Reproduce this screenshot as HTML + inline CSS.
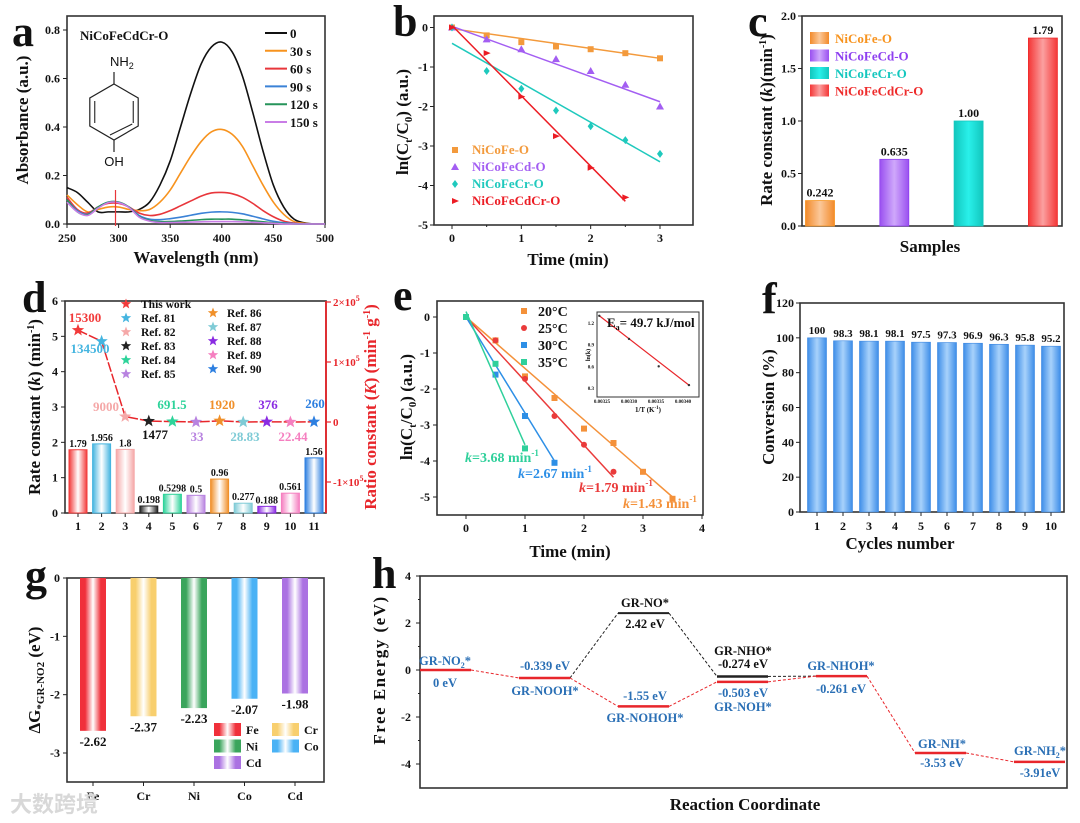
<!DOCTYPE html>
<html><head><meta charset="utf-8"><style>
html,body{margin:0;padding:0;background:#fff;}
svg{display:block;font-family:"Liberation Serif","Noto Serif CJK SC",serif;font-weight:bold;}
</style></head><body>
<svg id="fig" width="1080" height="823" viewBox="0 0 1080 823" xmlns="http://www.w3.org/2000/svg">
<defs>
<linearGradient id="gOr" x1="0" x2="1"><stop offset="0" stop-color="#f28a2a"/><stop offset="0.5" stop-color="#fbc89a"/><stop offset="1" stop-color="#f28a2a"/></linearGradient>
<linearGradient id="gPu" x1="0" x2="1"><stop offset="0" stop-color="#9a50f0"/><stop offset="0.5" stop-color="#cfa8fb"/><stop offset="1" stop-color="#9a50f0"/></linearGradient>
<linearGradient id="gCy" x1="0" x2="1"><stop offset="0" stop-color="#12c6bd"/><stop offset="0.5" stop-color="#29f0ea"/><stop offset="1" stop-color="#12c6bd"/></linearGradient>
<linearGradient id="gRe" x1="0" x2="1"><stop offset="0" stop-color="#f43636"/><stop offset="0.5" stop-color="#fba0a0"/><stop offset="1" stop-color="#f43636"/></linearGradient>
<linearGradient id="gBl" x1="0" x2="1"><stop offset="0" stop-color="#3d8de8"/><stop offset="0.5" stop-color="#a8d2fb"/><stop offset="1" stop-color="#3d8de8"/></linearGradient>
</defs>
</svg>
<script>
// ---------- data: panel a ----------
const aWave=[250,260,270,280,290,300,310,320,330,340,350,360,370,380,390,400,410,420,430,440,450,460,470,480,490,500];
const aS0=[0.15,0.13,0.09,0.05,0.05,0.05,0.05,0.06,0.09,0.16,0.26,0.40,0.54,0.66,0.73,0.75,0.71,0.61,0.46,0.30,0.16,0.07,0.02,0.005,0,0];
const aS30=[0.12,0.08,0.05,0.06,0.07,0.07,0.06,0.055,0.06,0.09,0.14,0.21,0.28,0.34,0.38,0.39,0.37,0.32,0.24,0.16,0.09,0.04,0.01,0.003,0,0];
const aS60=[0.11,0.06,0.045,0.07,0.085,0.085,0.07,0.045,0.035,0.04,0.055,0.075,0.095,0.115,0.128,0.13,0.125,0.11,0.085,0.055,0.03,0.012,0.004,0,0,0];
const aS90=[0.1,0.055,0.04,0.07,0.09,0.09,0.07,0.035,0.02,0.018,0.022,0.028,0.036,0.044,0.049,0.05,0.048,0.042,0.032,0.021,0.011,0.005,0.002,0,0,0];
const aS120=[0.1,0.05,0.038,0.07,0.09,0.09,0.07,0.03,0.015,0.01,0.01,0.012,0.015,0.018,0.02,0.02,0.02,0.017,0.013,0.009,0.005,0.002,0,0,0,0];
const aS150=[0.09,0.05,0.035,0.065,0.088,0.088,0.068,0.028,0.012,0.006,0.006,0.007,0.008,0.009,0.01,0.01,0.01,0.009,0.007,0.005,0.003,0,0,0,0,0];
const aLabels=["0","30 s","60 s","90 s","120 s","150 s"];
const aYTicks=[0,0.2,0.4,0.6,0.8];
const aXTicks=[250,300,350,400,450,500];
// ---------- panel b ----------
const bT=[0,0.5,1,1.5,2,2.5,3];
const bFe=[0,-0.2,-0.37,-0.48,-0.55,-0.65,-0.78];
const bCd=[0,-0.3,-0.55,-0.8,-1.1,-1.45,-2.0];
const bCr=[0,-1.1,-1.55,-2.1,-2.5,-2.85,-3.2];
const bCdCr=[0,-0.65,-1.75,-2.75,-3.55,-4.3];
const bFitStart=[-0.03,0.03,-0.4,0.05];
const bFitEnd=[-0.78,-1.88,-3.4,-4.4];
const bFitTEnd=[3,3,3,2.5];
const bNames=["NiCoFe-O","NiCoFeCd-O","NiCoFeCr-O","NiCoFeCdCr-O"];
// ---------- panel c ----------
const cNames=["NiCoFe-O","NiCoFeCd-O","NiCoFeCr-O","NiCoFeCdCr-O"];
const cVals=[0.242,0.635,1.00,1.79];
const cLabels=["0.242","0.635","1.00","1.79"];
const cYTicks=[0,0.5,1.0,1.5,2.0];
// ---------- panel d ----------
const dCats=[1,2,3,4,5,6,7,8,9,10,11];
const dK=[1.79,1.956,1.8,0.198,0.5298,0.5,0.96,0.277,0.188,0.561,1.56];
const dKLabels=["1.79","1.956","1.8","0.198","0.5298","0.5","0.96","0.277","0.188","0.561","1.56"];
const dRatio=[153000,134500,9000,1477,691.5,33,1920,28.83,376,22.44,260];
const dRatioLabels=["15300","134500","9000","1477","691.5","33","1920","28.83","376","22.44","260"];
const dLegend=["This work","Ref. 81","Ref. 82","Ref. 83","Ref. 84","Ref. 85","Ref. 86","Ref. 87","Ref. 88","Ref. 89","Ref. 90"];
// ---------- panel e ----------
const eT=[0,0.5,1,1.5,2,2.5,3,3.5];
const e20=[0,-0.65,-1.65,-2.25,-3.1,-3.5,-4.3,-5.05];
const e25=[0,-0.65,-1.72,-2.75,-3.55,-4.3];
const e30=[0,-1.6,-2.75,-4.05];
const e35=[0,-1.3,-3.65];
const eFitStart=[0,0,0,0.15];
const eFitEnd=[-5.0,-4.45,-4.0,-3.55];
const eFitTEnd=[3.5,2.5,1.5,1.0];
const eNames=["20°C","25°C","30°C","35°C"];
const eK=["1.43","1.79","2.67","3.68"];
const eInvT=[0.003245,0.003300,0.003355,0.003411];
const eLnK=[1.3,0.98,0.6,0.34];
// ---------- panel f ----------
const fCycles=[1,2,3,4,5,6,7,8,9,10];
const fConv=[100,98.3,98.1,98.1,97.5,97.3,96.9,96.3,95.8,95.2];
const fLabels=["100","98.3","98.1","98.1","97.5","97.3","96.9","96.3","95.8","95.2"];
// ---------- panel g ----------
const gEls=["Fe","Cr","Ni","Co","Cd"];
const gVals=[-2.62,-2.37,-2.23,-2.07,-1.98];
const gLabels=["-2.62","-2.37","-2.23","-2.07","-1.98"];
// ---------- panel h ----------
const hRedSlots=[0,1,2,3,4,5,6];
const hRedE=[0,-0.339,-1.55,-0.503,-0.261,-3.53,-3.91];
const hBlackSlots=[1,2,3,4];
const hBlackE=[-0.339,2.42,-0.274,-0.261];

const NS="http://www.w3.org/2000/svg";
const svg=document.getElementById('fig');
function mk(tag,attrs,name,parent){
  const e=document.createElementNS(NS,tag);
  for(const k in attrs) e.setAttribute(k,attrs[k]);
  
  
  (parent||svg).appendChild(e);return e;
}
function txt(x,y,s,name,o){
  o=o||{};
  const t=mk('text',{x:x,y:y,'font-size':o.size||12,fill:o.fill||'#111','text-anchor':o.anchor||'middle'},name);
  if(o.rot){t.setAttribute('transform','rotate('+o.rot+' '+x+' '+y+')');}
  if(o.italic) t.setAttribute('font-style','italic');
  if(o.ls) t.setAttribute('letter-spacing',o.ls);
  if(o.html) t.innerHTML=s; else t.textContent=s;
  return t;
}
function ln(x1,y1,x2,y2,name,stroke,w,dash){
  const l=mk('line',{x1:x1,y1:y1,x2:x2,y2:y2,stroke:stroke||'#222','stroke-width':w||1},name);
  if(dash) l.setAttribute('stroke-dasharray',dash);
  return l;
}
function frame(x0,y0,x1,y1,name){mk('rect',{x:x0,y:y0,width:x1-x0,height:y1-y0,fill:'none',stroke:'#333','stroke-width':1.6},name);}
function lin(d0,d1,p0,p1){return v=>p0+(v-d0)*(p1-p0)/(d1-d0);}
function smooth(pts){
  let d='M'+pts[0][0]+','+pts[0][1];
  for(let i=0;i<pts.length-1;i++){
    const p0=pts[Math.max(0,i-1)],p1=pts[i],p2=pts[i+1],p3=pts[Math.min(pts.length-1,i+2)];
    d+=' C'+(p1[0]+(p2[0]-p0[0])/6)+','+(p1[1]+(p2[1]-p0[1])/6)+' '+(p2[0]-(p3[0]-p1[0])/6)+','+(p2[1]-(p3[1]-p1[1])/6)+' '+p2[0]+','+p2[1];
  }
  return d;
}
function star(cx,cy,r,fill,name){
  let p=[];for(let i=0;i<10;i++){const a=-Math.PI/2+i*Math.PI/5;const rr=i%2?r*0.42:r;p.push((cx+rr*Math.cos(a)).toFixed(1)+','+(cy+rr*Math.sin(a)).toFixed(1));}
  mk('polygon',{points:p.join(' '),fill:fill},name);
}
function marker(type,cx,cy,s,fill,name){
  if(type==='sq') mk('rect',{x:cx-s,y:cy-s,width:2*s,height:2*s,fill:fill},name);
  else if(type==='tri') mk('polygon',{points:(cx)+','+(cy-s-1)+' '+(cx-s-1)+','+(cy+s)+' '+(cx+s+1)+','+(cy+s),fill:fill},name);
  else if(type==='dia') mk('polygon',{points:cx+','+(cy-s-1)+' '+(cx+s)+','+cy+' '+cx+','+(cy+s+1)+' '+(cx-s)+','+cy,fill:fill},name);
  else if(type==='rtri') mk('polygon',{points:(cx+s+1)+','+cy+' '+(cx-s)+','+(cy-s)+' '+(cx-s)+','+(cy+s),fill:fill},name);
  else mk('circle',{cx:cx,cy:cy,r:s,fill:fill},name);
}
function letter(x,y,s){txt(x,y,s,'panel-label-'+s,{size:44,anchor:'start'});}

// ================= PANEL A =================
(function(){
  const X=lin(250,500,67,325),Y=lin(0,0.8,224,30);
  frame(67,16,325,224,'panel-a-frame');
  aXTicks.forEach(v=>{ln(X(v),224,X(v),228,'a-x-tick');txt(X(v),242,String(v),'a-x-tick-label',{size:12});});
  aYTicks.forEach(v=>{ln(63,Y(v),67,Y(v),'a-y-tick');txt(60,Y(v)+4,v.toFixed(1),'a-y-tick-label',{size:12,anchor:'end'});});
  txt(196,263,'Wavelength (nm)','a-x-axis-title',{size:17});
  txt(28,120,'Absorbance (a.u.)','a-y-axis-title',{size:17,rot:-90});
  const series=[aS0,aS30,aS60,aS90,aS120,aS150];
  const cols=['#111','#f7931e','#e8363b','#3b82d6','#26945a','#c97de6'];
  series.forEach((s,i)=>{
    const pts=aWave.map((w,j)=>[X(w),Y(s[j])]);
    mk('path',{d:smooth(pts),fill:'none',stroke:cols[i],'stroke-width':1.6},'a-spectrum-'+aLabels[i].replace(' ',''));
    const ly=33+i*17.8;
    ln(265,ly,287,ly,'a-legend-line',cols[i],2);
    txt(290,ly+5,aLabels[i],'a-legend-label',{size:13,anchor:'start'});
  });
  ln(X(297),190,X(297),226,'a-arrow-marker','#e8363b',1.2);
  txt(80,40,'NiCoFeCdCr-O','a-sample-label',{size:13,anchor:'start'});
  // molecule
  const cx=114,cy=112,r=28;let p=[];
  for(let i=0;i<6;i++){const a=-Math.PI/2+i*Math.PI/3;p.push((cx+r*Math.cos(a)).toFixed(1)+','+(cy+r*Math.sin(a)).toFixed(1));}
  mk('polygon',{points:p.join(' '),fill:'none',stroke:'#222','stroke-width':1.2},'a-benzene-ring');
  ln(cx+r*0.866-5,cy-r*0.5+3,cx+r*0.866-5,cy+r*0.5-3,'a-ring-bond','#222',1.1);
  ln(cx-r*0.866+5,cy-r*0.5+3,cx-r*0.866+5,cy+r*0.5-3,'a-ring-bond','#222',1.1);
  ln(cx-4,cy+r-5,cx+r*0.866-6,cy+r*0.5-2,'a-ring-bond','#222',1.1);
  ln(cx,cy-r,cx,cy-r-12,'a-nh2-bond','#222',1.2);
  ln(cx,cy+r,cx,cy+r+12,'a-oh-bond','#222',1.2);
  const t1=txt(110,66,'NH<tspan font-size="9" dy="3">2</tspan>','a-nh2-label',{size:13,anchor:'start',html:true});t1.setAttribute('font-weight','normal');t1.setAttribute('font-family','Liberation Sans, sans-serif');
  const t2=txt(114,166,'OH','a-oh-label',{size:13,html:false});t2.setAttribute('font-weight','normal');t2.setAttribute('font-family','Liberation Sans, sans-serif');
  letter(12,46,'a');
})();

// ================= PANEL B =================
(function(){
  const X=lin(0,3,452,660),Y=lin(0,-5,27.5,225);
  frame(434,16,693,225,'panel-b-frame');
  [0,1,2,3].forEach(v=>{ln(X(v),225,X(v),229,'b-x-tick');txt(X(v),242,String(v),'b-x-tick-label',{size:12});});
  [0.5,1.5,2.5].forEach(v=>ln(X(v),225,X(v),227,'b-x-minor-tick'));
  [0,-1,-2,-3,-4,-5].forEach(v=>{ln(430,Y(v),434,Y(v),'b-y-tick');txt(428,Y(v)+4,String(v),'b-y-tick-label',{size:12,anchor:'end'});});
  txt(568,265,'Time (min)','b-x-axis-title',{size:17});
  txt(408,122,'ln(C<tspan font-size="11" dy="4">t</tspan><tspan dy="-4">/C</tspan><tspan font-size="11" dy="4">0</tspan><tspan dy="-4">) (a.u.)</tspan>','b-y-axis-title',{size:17,rot:-90,html:true});
  const data=[bFe,bCd,bCr,bCdCr];
  const cols=['#f39a3c','#a35ef2','#1fc9bd','#ec1c24'];
  const mt=['sq','tri','dia','rtri'];
  data.forEach((s,i)=>{
    ln(X(0),Y(bFitStart[i]),X(bFitTEnd[i]),Y(bFitEnd[i]),'b-fit-line-'+bNames[i],cols[i],1.5);
    s.forEach((v,j)=>marker(mt[i],X(bT[j]),Y(v),3,cols[i],'b-point-'+bNames[i]));
    const ly=154+i*17;
    marker(mt[i],455,ly-4,3,cols[i],'b-legend-marker');
    txt(472,ly,bNames[i],'b-legend-label',{size:13,anchor:'start',fill:cols[i]});
  });
  letter(393,36,'b');
})();

// ================= PANEL C =================
(function(){
  const Y=lin(0,2,226,16);const X=i=>820+i*74.3;
  frame(802,16,1062,226,'panel-c-frame');
  cYTicks.forEach(v=>{ln(798,Y(v),802,Y(v),'c-y-tick');txt(796,Y(v)+4,v.toFixed(1),'c-y-tick-label',{size:12,anchor:'end'});});
  txt(930,252,'Samples','c-x-axis-title',{size:17});
  txt(772,120,'Rate constant (<tspan font-style="italic">k</tspan>)(min<tspan font-size="10" dy="-6">-1</tspan><tspan dy="6">)</tspan>','c-y-axis-title',{size:17,rot:-90,html:true});
  const g=['url(#gOr)','url(#gPu)','url(#gCy)','url(#gRe)'];
  const cols=['#f7931e','#8e3ff0','#14c7be','#ee2b2b'];
  cVals.forEach((v,i)=>{
    mk('rect',{x:X(i)-14.5,y:Y(v),width:29,height:Y(0)-Y(v),fill:g[i],stroke:cols[i],'stroke-width':0.8},'c-bar-'+cNames[i]);
    txt(X(i),Y(v)-4,cLabels[i],'c-bar-value',{size:12});
    const ly=39+i*17.5;
    mk('rect',{x:810,y:ly-7,width:19,height:12,fill:g[i]},'c-legend-swatch');
    txt(835,ly+4,cNames[i],'c-legend-label',{size:13,anchor:'start',fill:cols[i]});
  });
  letter(748,36,'c');
})();

// ================= PANEL D =================
(function(){
  const Y=lin(0,6,513,301),R=lin(0,100000,422,362);const X=c=>78+(c-1)*23.6;
  frame(65,301,326,513,'panel-d-frame');
  ln(326,301,326,513,'d-right-axis','#e8262b',1.8);
  [0,1,2,3,4,5,6].forEach(v=>{ln(61,Y(v),65,Y(v),'d-y-tick');txt(58,Y(v)+4,String(v),'d-y-tick-label',{size:12,anchor:'end'});});
  dCats.forEach(c=>{ln(X(c),513,X(c),517,'d-x-tick');txt(X(c),530,String(c),'d-x-tick-label',{size:12});});
  [[200000,'2×10<tspan font-size="8" dy="-5">5</tspan>'],[100000,'1×10<tspan font-size="8" dy="-5">5</tspan>'],[0,'0'],[-100000,'-1×10<tspan font-size="8" dy="-5">5</tspan>']].forEach(a=>{
    ln(326,R(a[0]),331,R(a[0]),'d-right-tick','#e8262b',1.2);
    txt(333,R(a[0])+4,a[1],'d-right-tick-label',{size:11,anchor:'start',fill:'#e8262b',html:true});
  });
  txt(40,407,'Rate constant (<tspan font-style="italic">k</tspan>) (min<tspan font-size="10" dy="-6">-1</tspan><tspan dy="6">)</tspan>','d-y-axis-title',{size:17,rot:-90,html:true});
  txt(376,407,'Ratio constant (<tspan font-style="italic">K</tspan>) (min<tspan font-size="10" dy="-6">-1</tspan><tspan dy="6"> g</tspan><tspan font-size="10" dy="-6">-1</tspan><tspan dy="6">)</tspan>','d-right-axis-title',{size:17,rot:-90,fill:'#e8262b',html:true});
  const cols=['#f23a3a','#45b5e0','#f5a8a8','#222','#2ed39a','#b883e0','#f0902a','#7fcbd6','#8a2be2','#f57fc0','#2d7fe0'];
  dK.forEach((v,i)=>{
    const c=dCats[i];
    const gid='gd'+i;
    const lg=mk('linearGradient',{id:gid,x1:0,x2:1},'d-bar-gradient',svg.querySelector('defs'));
    mk('stop',{offset:0,'stop-color':cols[i]},'stop',lg);mk('stop',{offset:0.5,'stop-color':'#fff'},'stop',lg);mk('stop',{offset:1,'stop-color':cols[i]},'stop',lg);
    mk('rect',{x:X(c)-9,y:Y(v),width:18,height:Y(0)-Y(v),fill:'url(#'+gid+')',stroke:cols[i],'stroke-width':1},'d-bar-'+c);
    txt(X(c),Y(v)-3,dKLabels[i],'d-bar-value',{size:10});
  });
  let pts=dRatio.map((v,i)=>X(dCats[i])+','+R(v)).join(' ');
  const pl=mk('polyline',{points:pts,fill:'none',stroke:'#e8262b','stroke-width':1.5},'d-ratio-line');
  pl.setAttribute('stroke-dasharray','10,2');
  dRatio.forEach((v,i)=>star(X(dCats[i]),R(v),6.5,cols[i],'d-ratio-star-'+dCats[i]));
  const lab=[[85,322],[90,353],[106,411],[155,439],[172,409],[197,441],[222,409],[245,441],[268,409],[293,441],[315,408]];
  dRatioLabels.forEach((s,i)=>txt(lab[i][0],lab[i][1],s,'d-ratio-value',{size:13,fill:i==3?'#111':cols[i]}));
  dLegend.forEach((s,i)=>{
    const col=i<6?0:1;const k=i<6?i:i-6;
    const sx=col?213:126,tx=col?227:141,ly=(col?317:308)+k*14;
    star(sx,ly-4,5.5,cols[i],'d-legend-star');
    txt(tx,ly,s,'d-legend-label',{size:11.5,anchor:'start'});
  });
  letter(22,312,'d');
})();

// ================= PANEL E =================
(function(){
  const X=lin(0,4,466,702),Y=lin(0,-5,317,497);
  frame(437,301,703,515,'panel-e-frame');
  [0,1,2,3,4].forEach(v=>{ln(X(v),515,X(v),519,'e-x-tick');txt(X(v),532,String(v),'e-x-tick-label',{size:12});});
  [0,-1,-2,-3,-4,-5].forEach(v=>{ln(433,Y(v),437,Y(v),'e-y-tick');txt(430,Y(v)+4,String(v),'e-y-tick-label',{size:12,anchor:'end'});});
  txt(570,557,'Time (min)','e-x-axis-title',{size:17});
  txt(412,407,'ln(C<tspan font-size="11" dy="4">t</tspan><tspan dy="-4">/C</tspan><tspan font-size="11" dy="4">0</tspan><tspan dy="-4">) (a.u.)</tspan>','e-y-axis-title',{size:17,rot:-90,html:true});
  const data=[e20,e25,e30,e35];
  const cols=['#f4913a','#ea3b3b','#2d8fe6','#2fd09b'];
  const mt=['sq','circ','sq','sq'];
  data.forEach((s,i)=>{
    ln(X(0),Y(eFitStart[i]),X(eFitTEnd[i]),Y(eFitEnd[i]),'e-fit-line-'+eNames[i],cols[i],1.5);
    s.forEach((v,j)=>marker(mt[i],X(eT[j]),Y(v),3,cols[i],'e-point-'+eNames[i]));
    const ly=316+i*17;
    marker(mt[i],524,ly-5,3,cols[i],'e-legend-marker');
    txt(538,ly,eNames[i],'e-legend-label',{size:14,anchor:'start'});
  });
  const kpos=[[623,508],[579,492],[518,478],[465,462]];
  eK.forEach((k,i)=>txt(kpos[i][0],kpos[i][1],'<tspan font-style="italic">k</tspan>='+k+' min<tspan font-size="9" dy="-6">-1</tspan>','e-k-label',{size:14,anchor:'start',fill:cols[i],html:true}));
  // inset
  mk('rect',{x:597,y:312,width:102,height:85,fill:'#fff',stroke:'#333','stroke-width':1},'e-inset-frame');
  const IX=lin(0.00325,0.00340,602,683),IY=lin(0.3,1.2,388,323);
  ln(IX(eInvT[0]),IY(eLnK[0]),IX(eInvT[3]),IY(eLnK[3]),'e-inset-fit','#e8262b',1.2);
  eInvT.forEach((v,i)=>mk('circle',{cx:IX(v),cy:IY(eLnK[i]),r:1.2,fill:'#333'},'e-inset-point'));
  [0.3,0.6,0.9,1.2].forEach(v=>txt(594,IY(v)+2,v.toFixed(1),'e-inset-y-label',{size:5,anchor:'end'}));
  ['0.00325','0.00330','0.00335','0.00340'].forEach((s,i)=>txt(IX(0.00325+i*0.00005),403,s,'e-inset-x-label',{size:5}));
  txt(648,412,'1/T (K<tspan font-size="5" dy="-3">-1</tspan><tspan dy="3">)</tspan>','e-inset-x-title',{size:7,html:true});
  txt(590,355,'ln(k)','e-inset-y-title',{size:6,rot:-90});
  txt(607,327,'E<tspan font-size="8" dy="3">a</tspan><tspan dy="-3">= 49.7 kJ/mol</tspan>','e-inset-annotation',{size:13,anchor:'start',html:true});
  letter(393,310,'e');
})();

// ================= PANEL F =================
(function(){
  const Y=lin(0,120,512,303);const X=c=>817+(c-1)*26;
  frame(800,303,1064,512,'panel-f-frame');
  [0,20,40,60,80,100,120].forEach(v=>{ln(796,Y(v),800,Y(v),'f-y-tick');txt(794,Y(v)+4,String(v),'f-y-tick-label',{size:12,anchor:'end'});});
  fCycles.forEach(c=>{ln(X(c),512,X(c),516,'f-x-tick');txt(X(c),530,String(c),'f-x-tick-label',{size:12});});
  txt(900,549,'Cycles number','f-x-axis-title',{size:17});
  txt(774,407,'Conversion (%)','f-y-axis-title',{size:17,rot:-90});
  fConv.forEach((v,i)=>{
    mk('rect',{x:X(fCycles[i])-9.5,y:Y(v),width:19,height:Y(0)-Y(v),fill:'url(#gBl)',stroke:'#3a86e0','stroke-width':0.6},'f-bar-cycle-'+fCycles[i]);
    txt(X(fCycles[i]),Y(v)-4,fLabels[i],'f-bar-value',{size:11});
  });
  letter(762,313,'f');
})();

// ================= PANEL G =================
(function(){
  const Y=lin(0,-3,578,753);const X=i=>93+i*50.5;
  frame(67,578,324,782,'panel-g-frame');
  [0,-1,-2,-3].forEach(v=>{ln(63,Y(v),67,Y(v),'g-y-tick');txt(60,Y(v)+4,String(v),'g-y-tick-label',{size:12,anchor:'end'});});
  gEls.forEach((s,i)=>{ln(X(i),782,X(i),786,'g-x-tick');txt(X(i),800,s,'g-x-tick-label',{size:12});});
  txt(40,680,'ΔG<tspan font-size="11" dy="4">*GR-NO2</tspan><tspan dy="-4"> (eV)</tspan>','g-y-axis-title',{size:17,rot:-90,html:true});
  const cols=['#f0303a','#f8cf6e','#3aa55c','#4ab2f5','#ab72e2'];
  gVals.forEach((v,i)=>{
    const gid='gg'+i;
    const lg=mk('linearGradient',{id:gid,x1:0,x2:1},'g-bar-gradient',svg.querySelector('defs'));
    mk('stop',{offset:0,'stop-color':cols[i]},'stop',lg);mk('stop',{offset:0.2,'stop-color':cols[i]},'stop',lg);mk('stop',{offset:0.5,'stop-color':'#fff'},'stop',lg);mk('stop',{offset:0.8,'stop-color':cols[i]},'stop',lg);mk('stop',{offset:1,'stop-color':cols[i]},'stop',lg);
    mk('rect',{x:X(i)-13,y:Y(0),width:26,height:Y(v)-Y(0),fill:'url(#'+gid+')'},'g-bar-'+gEls[i]);
    txt(X(i),Y(v)+15,gLabels[i],'g-bar-value',{size:13});
    const col=(i===1||i===3)?1:0;const row=i===0||i===1?0:(i===2||i===3?1:2);
    const bx=col?272:214,ly=729+row*16.5;
    mk('rect',{x:bx,y:ly-6,width:27,height:13,fill:'url(#'+gid+')'},'g-legend-swatch');
    txt(bx+32,ly+5,gEls[i],'g-legend-label',{size:12,anchor:'start'});
  });
  const w=txt(10,812,'大数跨境','watermark',{size:22,anchor:'start',fill:'#d8d8d8'});w.setAttribute('font-family','Noto Sans CJK SC, sans-serif');
  letter(25,590,'g');
})();

// ================= PANEL H =================
(function(){
  const Y=lin(0,4,670,576);const X0=s=>420+s*99;const W=51;
  frame(420,576,1067,788,'panel-h-frame');
  [4,2,0,-2,-4].forEach(v=>{ln(416,Y(v),420,Y(v),'h-y-tick');txt(411,Y(v)+4,String(v),'h-y-tick-label',{size:12,anchor:'end'});});
  [3,1,-1,-3].forEach(v=>ln(418,Y(v),420,Y(v),'h-y-minor-tick'));
  txt(745,810,'Reaction Coordinate','h-x-axis-title',{size:17});
  txt(385,670,'Free Energy (eV)','h-y-axis-title',{size:17,rot:-90,ls:'1.5'});
  // black path
  for(let i=0;i<hBlackSlots.length-1;i++){
    ln(X0(hBlackSlots[i])+W,Y(hBlackE[i]),X0(hBlackSlots[i+1]),Y(hBlackE[i+1]),'h-black-connector','#222',1,'3,2');
  }
  ln(X0(2),Y(2.42),X0(2)+W,Y(2.42),'h-level-GR-NO','#222',2);
  ln(X0(3),Y(-0.274),X0(3)+W,Y(-0.274),'h-level-GR-NHO','#222',2.5);
  for(let i=0;i<hRedSlots.length-1;i++){
    ln(X0(hRedSlots[i])+W,Y(hRedE[i]),X0(hRedSlots[i+1]),Y(hRedE[i+1]),'h-red-connector','#e8262b',1,'3,2');
  }
  hRedE.forEach((v,i)=>ln(X0(hRedSlots[i]),Y(v),X0(hRedSlots[i])+W,Y(v),'h-level-red-'+i,'#e8262b',2.5));
  const B='#2a6fb5';
  txt(445,665,'GR-NO<tspan font-size="8" dy="3">2</tspan><tspan dy="-3">*</tspan>','h-label',{size:12.5,fill:B,html:true});
  txt(445,687,'0 eV','h-label',{size:12.5,fill:B});
  txt(545,670,'-0.339 eV','h-label',{size:12.5,fill:B});
  txt(545,695,'GR-NOOH*','h-label',{size:12.5,fill:B});
  txt(645,607,'GR-NO*','h-label',{size:12.5});
  txt(645,628,'2.42 eV','h-label',{size:12.5});
  txt(645,700,'-1.55 eV','h-label',{size:12.5,fill:B});
  txt(645,722,'GR-NOHOH*','h-label',{size:12.5,fill:B});
  txt(743,655,'GR-NHO*','h-label',{size:12.5});
  txt(743,668,'-0.274 eV','h-label',{size:12.5});
  txt(743,697,'-0.503 eV','h-label',{size:12.5,fill:B});
  txt(743,711,'GR-NOH*','h-label',{size:12.5,fill:B});
  txt(841,670,'GR-NHOH*','h-label',{size:12.5,fill:B});
  txt(841,693,'-0.261 eV','h-label',{size:12.5,fill:B});
  txt(942,748,'GR-NH*','h-label',{size:12.5,fill:B});
  txt(942,767,'-3.53 eV','h-label',{size:12.5,fill:B});
  txt(1040,755,'GR-NH<tspan font-size="8" dy="3">2</tspan><tspan dy="-3">*</tspan>','h-label',{size:12.5,fill:B,html:true});
  txt(1040,777,'-3.91eV','h-label',{size:12.5,fill:B});
  letter(372,588,'h');
})();
</script>
</body></html>
